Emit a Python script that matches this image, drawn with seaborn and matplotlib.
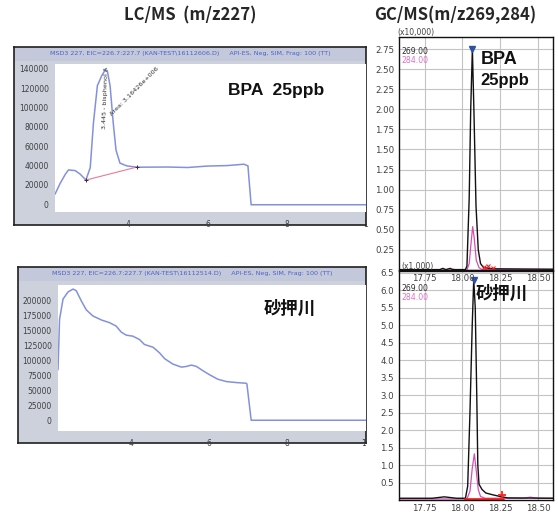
import numpy as np
import pandas as pd
import matplotlib
matplotlib.use("Agg")
import matplotlib.pyplot as plt
import seaborn as sns
from matplotlib.ticker import MultipleLocator, FixedLocator
from matplotlib.patches import Rectangle

sns.set_style("white")
plt.rcParams['font.family'] = ['DejaVu Sans', 'Noto Sans CJK JP']

# ---------------- data ----------------
titles = ["LC/MS  (m/z227)", "GC/MS(m/z269,284)"]
lc_headers = [
    "MSD3 227, EIC=226.7:227.7 (KAN-TEST\\16112606.D)     API-ES, Neg, SIM, Frag: 100 (TT)",
    "MSD3 227, EIC=226.7:227.7 (KAN-TEST\\16112514.D)     API-ES, Neg, SIM, Frag: 100 (TT)",
]
sample_labels = ["BPA  25ppb", "砂押川"]

# LC/MS BPA standard trace (min, counts)
lc1_time = [2.15, 2.28, 2.41, 2.49, 2.66, 2.79, 2.93, 3.04, 3.12, 3.22, 3.33, 3.42, 3.47,
            3.54, 3.62, 3.69, 3.79, 3.96, 4.22, 5.0, 5.5, 6.0, 6.5, 6.92, 7.02, 7.10, 8.0, 10.0]
lc1_int = [10400, 21600, 31000, 35500, 34800, 31000, 25000, 38000, 84000, 122600, 133000,
           139000, 138000, 122600, 84000, 56000, 42500, 39700, 38300, 38500, 38000, 39500,
           40000, 41400, 39700, -500, -500, -500]
lc1_base_time = [2.93, 4.22]
lc1_base_int = [25000, 38500]

# LC/MS river sample trace
lc2_time = [2.11, 2.15, 2.24, 2.37, 2.50, 2.58, 2.71, 2.84, 3.01, 3.23, 3.44, 3.61, 3.74,
            3.87, 4.04, 4.21, 4.34, 4.56, 4.73, 4.86, 5.07, 5.29, 5.42, 5.55, 5.68, 5.85,
            6.02, 6.23, 6.45, 6.71, 6.96, 6.98, 7.09, 10.06]
lc2_int = [84500, 169000, 203000, 215000, 219700, 217000, 200000, 184800, 174600, 167900,
           163400, 157700, 147600, 142500, 140800, 135200, 126800, 122300, 112700, 103100,
           94100, 89000, 90100, 92400, 90100, 82800, 76100, 68700, 64800, 63100, 62000,
           60800, 0, 0]

# GC/MS BPA standard (x10,000)
gc1_time = [17.58, 17.85, 17.87, 17.89, 17.92, 17.93, 17.95, 18.02, 18.03, 18.045, 18.055,
            18.066, 18.076, 18.09, 18.105, 18.12, 18.14, 18.2, 18.6]
gc1_269 = [0.005, 0.005, 0.02, 0.005, 0.02, 0.01, 0.005, 0.005, 0.05, 0.9, 2.0,
           2.75, 2.0, 0.8, 0.25, 0.08, 0.03, 0.015, 0.01]
gc1_284_time = [17.58, 18.03, 18.045, 18.058, 18.068, 18.078, 18.092, 18.11, 18.13, 18.6]
gc1_284 = [0.0, 0.0, 0.08, 0.35, 0.54, 0.4, 0.12, 0.03, 0.005, 0.005]

# GC/MS river sample (x1,000)
gc2_time = [17.58, 17.8, 17.88, 17.92, 17.96, 18.02, 18.035, 18.05, 18.065, 18.075, 18.085,
            18.095, 18.102, 18.11, 18.13, 18.155, 18.2, 18.25, 18.3, 18.6]
gc2_269 = [0.05, 0.05, 0.09, 0.07, 0.05, 0.05, 0.4, 2.5, 5.0, 6.3, 5.5, 3.0, 1.0, 0.45,
           0.3, 0.2, 0.15, 0.1, 0.06, 0.05]
gc2_284_time = [17.58, 18.03, 18.05, 18.065, 18.079, 18.09, 18.105, 18.12, 18.15, 18.4,
                18.45, 18.5, 18.6]
gc2_284 = [0.03, 0.03, 0.25, 0.9, 1.32, 0.9, 0.3, 0.1, 0.05, 0.05, 0.08, 0.05, 0.05]

W, H = 558, 513
def R(x0, y0, x1, y1):
    return [x0 / W, 1 - y1 / H, (x1 - x0) / W, (y1 - y0) / H]

fig = plt.figure(figsize=(W / 100, H / 100), dpi=100)
fig.patch.set_facecolor("white")

fig.text(190 / W, 1 - 15 / H, titles[0], ha="center", va="center", fontsize=12,
         fontweight="bold", family=['Noto Sans CJK JP'])
fig.text(455 / W, 1 - 15 / H, titles[1], ha="center", va="center", fontsize=12,
         fontweight="bold", family=['Noto Sans CJK JP'])

LC_BLUE = "#8391dc"
GRAY_BG = "#cdd1dc"
HEAD_BG = "#c3c9db"

def lc_panel(box, plot, header, t, y, ylim, xlim, yticks, ylabel_fmt, minor):
    fr = fig.add_axes(R(*box))
    fr.set_facecolor(GRAY_BG)
    fr.set_xticks([]); fr.set_yticks([])
    for s in fr.spines.values():
        s.set_color("#202020"); s.set_linewidth(1.2)
    bx0, by0, bx1, by1 = box
    hh = 14
    fr.add_patch(Rectangle((0, 1 - hh / (by1 - by0)), 1, hh / (by1 - by0),
                           transform=fr.transAxes, facecolor=HEAD_BG, edgecolor="none"))
    fr.text(0.5, 1 - (hh / 2) / (by1 - by0), header, transform=fr.transAxes,
            ha="center", va="center", fontsize=4.6, color="#4a62c8")
    ax = fig.add_axes(R(*plot))
    ax.set_facecolor("white")
    sns.lineplot(x=t, y=y, ax=ax, color=LC_BLUE, linewidth=1.1, sort=False, estimator=None)
    ax.set_xlim(*xlim); ax.set_ylim(*ylim)
    for s in ax.spines.values():
        s.set_visible(False)
    ax.set_yticks(yticks)
    ax.set_yticklabels([ylabel_fmt(v) for v in yticks])
    ax.yaxis.set_minor_locator(MultipleLocator(minor))
    ax.set_xticks([4, 6, 8, 10])
    ax.set_xticklabels(["4", "6", "8", "1"])
    ax.xaxis.set_minor_locator(MultipleLocator(0.5))
    ax.tick_params(axis="both", which="major", labelsize=5.5, labelcolor="#404040",
                   color="#909090", length=3, width=0.6, direction="out", pad=1.5)
    ax.tick_params(axis="both", which="minor", color="#a0a0a0", length=1.5, width=0.5,
                   direction="out")
    ax.tick_params(axis="x", pad=2.5)
    ax.set_xlabel(""); ax.set_ylabel("")
    return ax

ax1 = lc_panel((14, 47, 366, 225), (55, 64, 366, 212), lc_headers[0], lc1_time, lc1_int,
               (-8000, 145000), (2.15, 10.0), list(range(0, 140001, 20000)),
               lambda v: f"{int(v)}", 5000)
sns.lineplot(x=lc1_base_time, y=lc1_base_int, ax=ax1, color="#e57c9a", linewidth=0.8)
ax1.plot(lc1_base_time, lc1_base_int, linestyle="none", marker="+", color="#303030",
         markersize=3, markeredgewidth=0.7)
ax1.text(3.43, 110000, "3.445 - bisphenol A", rotation=88, ha="center", va="center",
         fontsize=4.6, color="#303030")
ax1.text(4.15, 117000, "Area: 3.16426e+006", rotation=45, ha="center", va="center",
         fontsize=4.6, color="#303030")
ax1.text(6.52, 118000, sample_labels[0], ha="left", va="center", fontsize=12.5,
         fontweight="bold", family=["Liberation Sans"], color="#111111")

ax2 = lc_panel((18, 267, 366, 443), (58, 285, 366, 431), lc_headers[1], lc2_time, lc2_int,
               (-18000, 226500), (2.11, 10.05), list(range(0, 200001, 25000)),
               lambda v: f"{int(v)}", 5000)
ax2.text(7.42, 186000, sample_labels[1], ha="left", va="center", fontsize=12.5,
         fontweight="bold", family=["Noto Sans CJK JP"], color="#111111")

# ---------------- GC panels ----------------
PINK = "#d44fb4"
def gc_axes(rect, ylim, yminor, yticks, fmt, z):
    ax = fig.add_axes(R(*rect), zorder=z)
    ax.set_facecolor("white")
    ax.set_xlim(17.58, 18.60)
    ax.set_ylim(*ylim)
    ax.set_xticks([17.75, 18.00, 18.25, 18.50])
    ax.set_xticklabels(["17.75", "18.00", "18.25", "18.50"])
    ax.xaxis.set_minor_locator(MultipleLocator(0.05))
    ax.yaxis.set_major_locator(FixedLocator(yticks))
    ax.set_yticklabels([fmt(v) for v in yticks])
    ax.yaxis.set_minor_locator(MultipleLocator(yminor))
    ax.grid(True, which="major", color="#c4c4c4", linewidth=0.8)
    ax.set_axisbelow(True)
    for s in ax.spines.values():
        s.set_color("#101010"); s.set_linewidth(1.0)
    ax.tick_params(axis="both", which="major", labelsize=6.2, labelcolor="#404040",
                   color="#303030", length=2.5, width=0.7, direction="out", pad=1)
    ax.tick_params(axis="x", which="major", pad=0.5)
    ax.tick_params(axis="both", which="minor", color="#303030", length=1.5, width=0.5,
                   direction="out")
    return ax

gb = gc_axes((399, 271, 553, 500), (0, 6.55), 0.1,
             [0.5, 1.0, 1.5, 2.0, 2.5, 3.0, 3.5, 4.0, 4.5, 5.0, 5.5, 6.0, 6.5],
             lambda v: f"{v:.1f}", 2)
gt = gc_axes((399, 37, 553, 270), (0, 2.9), 0.05,
             [0.25, 0.5, 0.75, 1.0, 1.25, 1.5, 1.75, 2.0, 2.25, 2.5, 2.75],
             lambda v: f"{v:.2f}", 3)

sns.lineplot(x=gc1_284_time, y=gc1_284, ax=gt, color=PINK, linewidth=0.9, sort=False, estimator=None)
sns.lineplot(x=gc1_time, y=gc1_269, ax=gt, color="#111111", linewidth=1.0, sort=False, estimator=None)
gt.plot([18.03, 18.2], [0.006, 0.006], color="#ff2020", linewidth=1.0)
gt.plot([18.14, 18.17, 18.2], [0.035, 0.045, 0.03], linestyle="none", marker="x",
        color="#ff2020", markersize=3, markeredgewidth=0.8)
gt.plot([gc1_time[int(np.argmax(gc1_269))]], [max(gc1_269)], marker="v", color="#3050a0",
        markersize=4.5, linestyle="none")
gt.set_xlabel(""); gt.set_ylabel("")
gt.text(0.015, 0.937, "269.00", transform=gt.transAxes, fontsize=5.6, color="#303030", va="center")
gt.text(0.015, 0.901, "284.00", transform=gt.transAxes, fontsize=5.6, color="#e070c8", va="center")
gt.text(18.12, 2.62, "BPA", ha="left", va="center", fontsize=13, fontweight="bold",
        family=["Liberation Sans"], color="#111111")
gt.text(18.12, 2.36, "25ppb", ha="left", va="center", fontsize=12, fontweight="bold",
        family=["Liberation Sans"], color="#111111")

sns.lineplot(x=gc2_284_time, y=gc2_284, ax=gb, color=PINK, linewidth=0.9, sort=False, estimator=None)
sns.lineplot(x=gc2_time, y=gc2_269, ax=gb, color="#111111", linewidth=1.0, sort=False, estimator=None)
gb.plot([18.02, 18.27], [0.03, 0.03], color="#ff2020", linewidth=2.0)
gb.plot([18.26], [0.15], marker="+", color="#ff2020", markersize=6, markeredgewidth=1.3,
        linestyle="none")
gb.plot([gc2_time[int(np.argmax(gc2_269))]], [max(gc2_269)], marker="v", color="#3050a0",
        markersize=4.5, linestyle="none")
gb.set_xlabel(""); gb.set_ylabel("")
gb.text(0.015, 0.922, "269.00", transform=gb.transAxes, fontsize=5.6, color="#303030", va="center")
gb.text(0.015, 0.886, "284.00", transform=gb.transAxes, fontsize=5.6, color="#e070c8", va="center")
gb.text(18.085, 5.9, sample_labels[1], ha="left", va="center", fontsize=12.5,
        fontweight="bold", family=["Noto Sans CJK JP"], color="#111111")

fig.text(397 / W, 1 - 37 / H, "(x10,000)", ha="left", va="bottom", fontsize=5.5, color="#404040")
fig.text(401 / W, 1 - 271 / H, "(x1,000)", ha="left", va="bottom", fontsize=5.5,
         color="#404040", zorder=10)

fig.savefig("out.png", dpi=100, facecolor="white")
